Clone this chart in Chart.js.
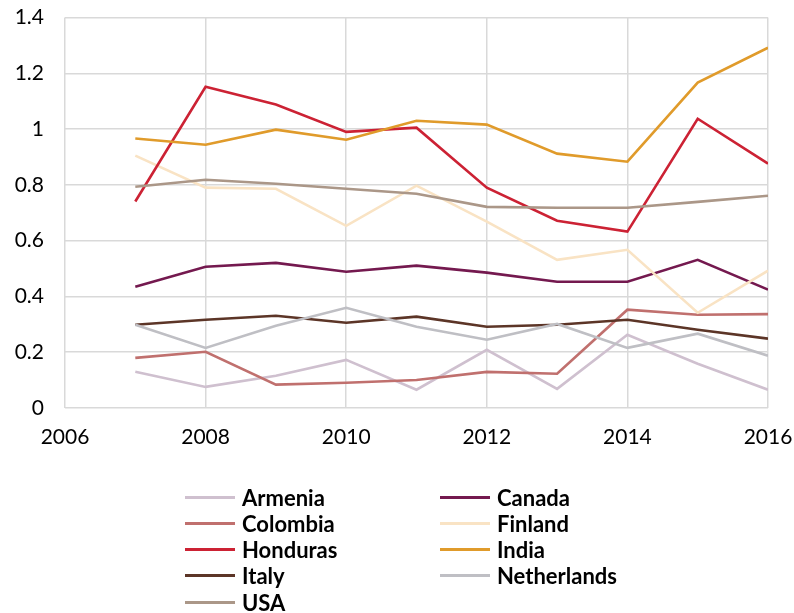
<!DOCTYPE html>
<html><head><meta charset="utf-8">
<script src="https://cdn.jsdelivr.net/npm/chart.js@4/dist/chart.umd.min.js"></script>
<style>
html,body{margin:0;padding:0;background:#fff;width:794px;height:613px;overflow:hidden;font-family:Lato,"Open Sans",sans-serif}
#wrap{position:absolute;left:0;top:-16px;width:794px;height:483px}
#legend{position:absolute;left:0;top:0;width:794px;height:613px;pointer-events:none}
.item{position:absolute;height:26px;display:flex;align-items:center;font-weight:bold;font-size:22px;color:#000}
.swatch{display:inline-block;width:50px;height:3px;margin-right:7px}
</style></head>
<body>
<div id="wrap"><canvas id="c"></canvas></div>
<div id="legend"></div>
<script>
const years = [2007,2008,2009,2010,2011,2012,2013,2014,2015,2016];
const seriesNames = ['Armenia','Canada','Colombia','Finland','Honduras','India','Italy','Netherlands','USA'];
const armenia     = [0.129,0.075,0.115,0.172,0.065,0.208,0.068,0.262,0.158,0.065];
const canada      = [0.434,0.506,0.520,0.488,0.510,0.485,0.452,0.452,0.531,0.424];
const colombia    = [0.179,0.201,0.083,0.090,0.100,0.129,0.122,0.352,0.334,0.336];
const finland     = [0.905,0.790,0.786,0.653,0.797,0.668,0.531,0.567,0.341,0.492];
const honduras    = [0.740,1.152,1.088,0.990,1.005,0.790,0.671,0.632,1.037,0.876];
const india       = [0.966,0.944,0.998,0.962,1.030,1.016,0.912,0.883,1.167,1.292];
const italy       = [0.298,0.316,0.330,0.305,0.327,0.291,0.298,0.316,0.280,0.248];
const netherlands = [0.298,0.215,0.294,0.359,0.291,0.244,0.301,0.215,0.266,0.187];
const usa         = [0.793,0.818,0.804,0.786,0.768,0.721,0.718,0.718,0.739,0.761];
const xTickLabels = ['2006','2008','2010','2012','2014','2016'];
const yTickLabels = ['0','0.2','0.4','0.6','0.8','1','1.2','1.4'];

const values = [armenia,canada,colombia,finland,honduras,india,italy,netherlands,usa];
const colors = ['#cfc0cf','#74194f','#c0706e','#f9e3c4','#cc2234','#e09b2b','#5c3527','#bfbfc4','#ab9788'];
const datasets = seriesNames.map((n,i)=>({
  label:n,
  data: years.map((y,j)=>({x:y,y:values[i][j]})),
  borderColor:colors[i], backgroundColor:colors[i],
  borderWidth:2.6, pointRadius:0, tension:0, fill:false,
  order: 8-i
}));

new Chart(document.getElementById('c'),{
  type:'line',
  data:{datasets},
  options:{
    responsive:true, maintainAspectRatio:false, animation:false,
    layout:{padding:{top:0,right:0,left:0,bottom:0}},
    plugins:{legend:{display:false},tooltip:{enabled:false}},
    scales:{
      x:{type:'linear',min:2006,max:2016,
        grid:{color:'#d9d9d9',lineWidth:1.5,drawTicks:false},
        border:{display:false},
        afterFit:(s)=>{s.paddingRight=26;s.paddingLeft=0;},
        ticks:{stepSize:2,padding:17,color:'#000',font:{family:'Lato',size:21},maxRotation:0,
          callback:(v)=>{const s=String(v);return xTickLabels.includes(s)?s:'';}}
      },
      y:{min:0,max:1.4,
        grid:{color:'#d9d9d9',lineWidth:1.5,drawTicks:false},
        border:{display:false},
        afterFit:(s)=>{s.width=65;},
        ticks:{stepSize:0.2,padding:21,color:'#000',font:{family:'Lato',size:21},
          callback:(v)=>yTickLabels[Math.round(v/0.2)]}
      }
    }
  }
});

const leg = document.getElementById('legend');
seriesNames.forEach((n,i)=>{
  const col = i%2, row = Math.floor(i/2);
  const d = document.createElement('div');
  d.className='item';
  d.style.left = (col===0?185:440)+'px';
  d.style.top = (497 - 13 + row*26.3)+'px';
  d.innerHTML = '<span class="swatch" style="background:'+colors[i]+'"></span>';
  d.appendChild(document.createTextNode(n));
  leg.appendChild(d);
});
</script>
</body></html>
